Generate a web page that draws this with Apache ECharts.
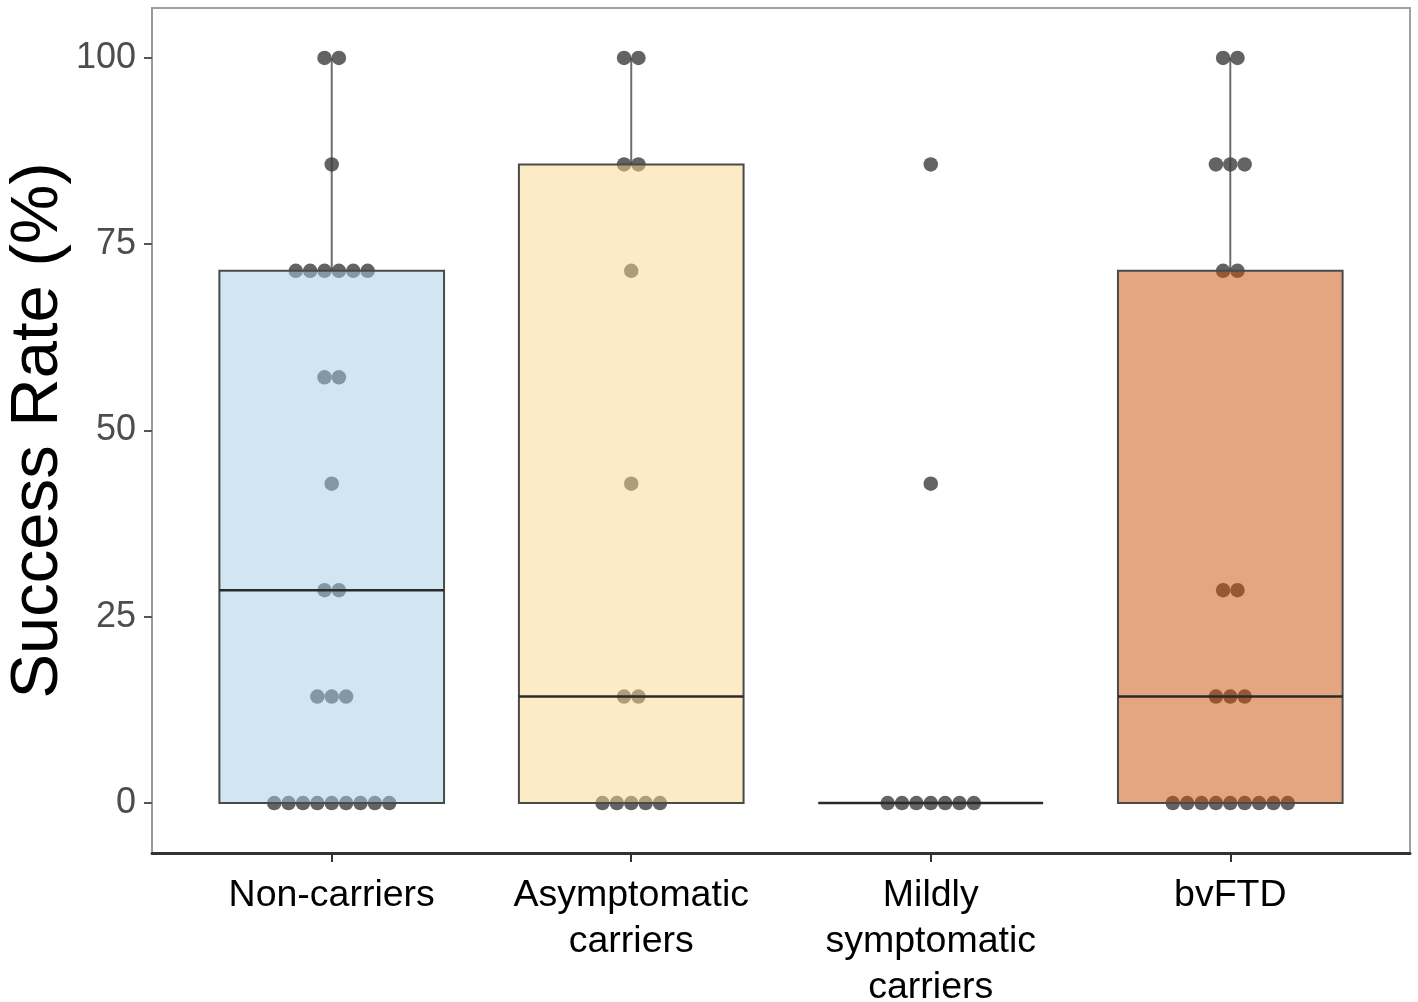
<!DOCTYPE html>
<html>
<head>
<meta charset="utf-8">
<script src="https://cdn.jsdelivr.net/npm/echarts@6/dist/echarts.min.js"></script>
<style>
  html, body { margin: 0; padding: 0; background: #fff; }
  #chart { width: 1418px; height: 1002px; }
</style>
</head>
<body>
<div id="chart"></div>
<script>
// groups on the x axis
const categories = ['Non-carriers', 'Asymptomatic\ncarriers', 'Mildly\nsymptomatic\ncarriers', 'bvFTD'];
// possible scores (k out of 7 correct)
const levels = [0, 14.29, 28.57, 42.86, 57.14, 71.43, 85.71, 100];
// how many subjects sit on each level, per group
const nonCarriers  = [9, 3, 2, 1, 2, 6, 1, 2];
const asymptomatic = [5, 2, 0, 1, 0, 1, 2, 2];
const mildly       = [7, 0, 0, 1, 0, 0, 1, 0];
const bvFTD        = [9, 3, 2, 0, 0, 2, 3, 2];
// box stats: [lower whisker, Q1, median, Q3, upper whisker]
const boxStats = [
    [0, 0, 28.57, 71.43, 100],
    [0, 0, 14.29, 85.71, 100],
    [0, 0, 0, 0, 0],
    [0, 0, 14.29, 71.43, 100]
];
const yTicks = [0, 25, 50, 75, 100];
const boxColors = ['rgba(165,205,229,0.5)', 'rgba(251,215,143,0.5)', 'rgba(255,255,255,0)', 'rgba(201,75,3,0.5)'];

const counts = [nonCarriers, asymptomatic, mildly, bvFTD];
const dotStep = 0.048;
const boxWidth = 0.75;

// beeswarm-like centred rows of dots
let dots = [];
counts.forEach((grp, gi) => {
    grp.forEach((n, li) => {
        for (let j = 0; j < n; j++) {
            dots.push([gi + (j - (n - 1) / 2) * dotStep, levels[li]]);
        }
    });
});

const boxData = boxStats.map((s, i) => [i].concat(s));

const font = "'Liberation Sans', Arial, sans-serif";
const chart = echarts.init(document.getElementById('chart'));
let option = {
    backgroundColor: '#fff',
    animation: false,
    grid: {
        left: 152, right: 8, top: 8, bottom: 149,
        outerBoundsMode: 'none',
        containLabel: false,
        show: true, borderColor: '#a0a0a0', borderWidth: 2
    },
    xAxis: {
        type: 'value',
        min: -0.6,
        max: 3.6,
        splitLine: { show: false },
        axisLine: { show: true, onZero: false, lineStyle: { color: '#333', width: 3 } },
        axisTick: { show: true, customValues: [0, 1, 2, 3], length: 9, lineStyle: { color: '#333', width: 2 } },
        axisLabel: {
            customValues: [0, 1, 2, 3],
            formatter: v => categories[Math.round(v)],
            color: '#000',
            fontFamily: font,
            fontSize: 37.5,
            lineHeight: 46,
            margin: 20
        }
    },
    yAxis: {
        type: 'value',
        min: -6.7,
        max: 106.7,
        name: 'Success Rate (%)',
        nameLocation: 'middle',
        nameGap: 80,
        nameMoveOverlap: false,
        nameTextStyle: { color: '#000', fontFamily: font, fontSize: 67 },
        splitLine: { show: false },
        axisLine: { show: true, onZero: false, lineStyle: { color: '#9a9a9a', width: 2 } },
        axisTick: { show: true, customValues: yTicks, length: 8, lineStyle: { color: '#555', width: 2 } },
        axisLabel: {
            customValues: yTicks,
            color: '#4d4d4d',
            fontFamily: font,
            fontSize: 36,
            margin: 16
        }
    },
    series: [
        {
            // whiskers
            type: 'custom',
            z: 1,
            data: boxData,
            encode: { x: 0, y: [1, 2, 3, 4, 5] },
            renderItem: (params, api) => {
                const x = api.value(0);
                const a = api.coord([x, api.value(4)]);
                const b = api.coord([x, api.value(5)]);
                const c = api.coord([x, api.value(1)]);
                const d = api.coord([x, api.value(2)]);
                const st = { stroke: '#6e6e6e', lineWidth: 2 };
                return {
                    type: 'group',
                    children: [
                        { type: 'line', shape: { x1: a[0], y1: a[1], x2: b[0], y2: b[1] }, style: st },
                        { type: 'line', shape: { x1: c[0], y1: c[1], x2: d[0], y2: d[1] }, style: st }
                    ]
                };
            }
        },
        {
            type: 'scatter',
            z: 2,
            symbol: 'circle',
            symbolSize: 14.5,
            itemStyle: { color: '#3c3c3c' },
            data: dots
        },
        {
            // boxes drawn over the dots with a see-through fill
            type: 'custom',
            z: 3,
            data: boxData,
            encode: { x: 0, y: [1, 2, 3, 4, 5] },
            renderItem: (params, api) => {
                const i = params.dataIndex;
                const x = api.value(0);
                const w = api.size([boxWidth, 0])[0];
                const q1 = api.coord([x, api.value(2)]);
                const med = api.coord([x, api.value(3)]);
                const q3 = api.coord([x, api.value(4)]);
                return {
                    type: 'group',
                    children: [
                        {
                            type: 'rect',
                            shape: { x: q1[0] - w / 2, y: q3[1], width: w, height: q1[1] - q3[1] },
                            style: { fill: boxColors[i], stroke: '#4a4a4a', lineWidth: 2 }
                        },
                        {
                            type: 'line',
                            shape: { x1: med[0] - w / 2, y1: med[1], x2: med[0] + w / 2, y2: med[1] },
                            style: { stroke: '#2a2a2a', lineWidth: 2.5 }
                        }
                    ]
                };
            }
        }
    ]
};
chart.setOption(option);
</script>
</body>
</html>
